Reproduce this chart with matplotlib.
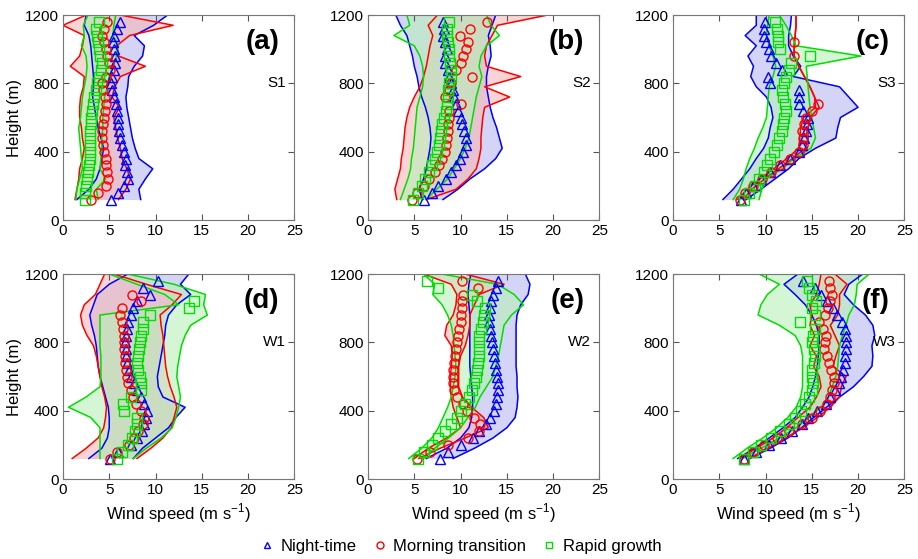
import numpy as np
import matplotlib
matplotlib.use('Agg')
import matplotlib.pyplot as plt
from matplotlib.lines import Line2D

plt.rcParams['font.family'] = ['Liberation Sans', 'DejaVu Sans']
plt.rcParams['mathtext.fontset'] = 'custom'
plt.rcParams['mathtext.rm'] = 'Liberation Sans'

# Heights (m): markers every 40 m, envelopes every 60 m
h_mean = np.arange(120, 1161, 40)
h_env = np.arange(120, 1201, 60)

# ---- (a) S1 ----
a_night = [5.2, 5.9, 6.6, 7.0, 6.9, 6.7, 6.8, 6.6, 6.4, 6.2, 6.1, 6.0, 5.9, 5.8, 5.7, 5.5, 5.3, 5.2, 5.3, 5.5, 5.6, 5.6, 5.5, 5.4, 5.5, 5.8, 6.2]
a_night_lo = [1.5, 2.8, 3.6, 4.0, 4.2, 4.4, 4.1, 3.8, 3.6, 3.4, 3.2, 3.3, 3.3, 3.2, 3.1, 3.0, 2.8, 2.3, 2.5]
a_night_hi = [8.4, 8.2, 8.9, 9.7, 8.2, 7.8, 7.5, 7.3, 7.1, 6.9, 6.8, 7.0, 7.1, 7.7, 8.6, 8.8, 7.7, 9.8, 11.3]
a_morn = [3.0, 3.8, 4.6, 4.9, 4.8, 4.7, 4.6, 4.4, 4.3, 4.2, 4.2, 4.3, 4.4, 4.5, 4.6, 4.5, 4.3, 4.2, 4.6, 5.1, 5.0, 4.8, 4.6, 4.4, 4.2, 4.4, 4.8]
a_morn_lo = [1.3, 1.5, 1.7, 1.8, 2.1, 2.3, 2.1, 2.0, 1.8, 1.8, 1.9, 2.2, 2.3, 0.8, 1.8, 2.1, 2.3, 0.0, 2.5]
a_morn_hi = [6.0, 6.8, 7.3, 6.9, 6.4, 6.2, 5.9, 5.7, 5.5, 6.1, 5.3, 5.6, 6.2, 8.9, 6.0, 5.8, 7.2, 11.9, 6.2]
a_rapid = [2.4, 2.4, 2.5, 2.6, 2.7, 2.8, 2.9, 2.9, 2.9, 2.9, 2.9, 3.0, 3.0, 3.1, 3.2, 3.4, 3.6, 3.7, 3.9, 4.1, 4.2, 4.0, 3.9, 3.8, 3.7, 3.6, 3.9]
a_rapid_lo = [1.4, 1.5, 1.8, 2.1, 2.0, 1.9, 1.8, 1.7, 1.9, 2.0, 2.1, 2.3, 2.5, 2.6, 2.5, 2.0, 2.3, 2.2, 2.7]
a_rapid_hi = [3.8, 3.6, 4.6, 4.0, 4.1, 4.2, 4.2, 4.3, 4.3, 4.4, 4.5, 4.8, 5.0, 5.4, 5.8, 6.0, 5.4, 5.5, 5.7]

# ---- (b) S2 ----
b_night = [6.0, 6.9, 7.6, 8.4, 9.0, 9.5, 9.9, 10.3, 10.6, 10.6, 10.4, 10.2, 10.0, 9.7, 9.5, 9.3, 9.2, 9.0, 8.8, 8.6, 8.3, 8.3, 8.5, 8.3, 8.1, 8.2, 8.1]
b_night_lo = [5.9, 5.5, 6.0, 6.3, 6.5, 6.7, 6.8, 6.7, 6.5, 6.2, 5.8, 5.5, 5.3, 5.0, 4.8, 4.5, 4.2, 3.5, 3.0]
b_night_hi = [8.1, 9.7, 11.0, 12.6, 13.8, 14.5, 14.2, 13.9, 13.5, 13.2, 13.0, 12.8, 12.8, 13.0, 13.3, 13.2, 13.0, 13.4, 13.8]
b_morn = [4.7, 5.3, 6.0, 6.6, 7.2, 7.7, 8.0, 8.3, 8.4, 8.5, 8.6, 8.6, 8.7, 8.8, 10.1, 8.3, 8.7, 9.0, 11.2, 9.5, 10.0, 10.3, 10.6, 10.8, 9.9, 11.0, 12.9]
b_morn_lo = [3.1, 2.9, 3.2, 3.5, 3.6, 3.8, 3.9, 4.0, 4.2, 4.5, 5.0, 5.6, 6.0, 6.3, 6.5, 6.7, 7.0, 6.5, 7.5]
b_morn_hi = [6.3, 9.5, 10.8, 11.7, 12.0, 12.2, 12.2, 12.3, 12.4, 12.6, 15.3, 12.6, 16.5, 12.8, 12.6, 12.8, 13.4, 14.0, 19.4]
b_rapid = [4.9, 5.4, 5.8, 6.2, 6.6, 6.9, 7.2, 7.5, 7.7, 7.8, 7.9, 8.0, 8.2, 8.4, 8.5, 8.6, 8.6, 8.8, 9.0, 9.0, 8.9, 8.8, 8.7, 8.6, 8.5, 8.5, 8.7]
b_rapid_lo = [3.5, 3.9, 4.3, 4.6, 4.7, 4.9, 5.0, 5.1, 5.2, 5.3, 5.6, 5.9, 6.0, 5.9, 5.6, 5.0, 2.8, 4.5, 4.2]
b_rapid_hi = [6.3, 7.4, 8.6, 9.3, 10.0, 10.5, 10.9, 11.1, 11.3, 11.5, 11.7, 12.0, 12.3, 12.0, 12.2, 12.8, 14.2, 13.3, 12.8]

# ---- (c) S3 ----
nan = np.nan
c_night = [7.4, 7.9, 8.6, 9.5, 10.5, 11.6, 12.6, 13.6, 13.9, 14.2, 14.4, 14.5, 14.6, 14.0, 13.6, 13.6, 13.6, 10.5, 10.3, 11.8, 11.1, 10.6, 10.4, 10.1, 9.8, 9.8, 9.9]
c_night_lo = [5.4, 6.5, 7.4, 8.3, 9.0, 9.8, 10.3, 10.5, 10.8, 10.6, 10.1, 9.0, 8.4, 8.7, 8.1, 9.0, 7.8, 9.0, 9.0]
c_night_hi = [7.9, 9.5, 11.0, 12.5, 13.6, 15.4, 17.6, 17.8, 18.1, 20.0, 19.0, 18.0, 13.0, 13.8, 13.0, 12.5, 12.5, 12.7, 12.8]
c_morn = [7.2, 7.8, 8.6, 9.6, 10.6, 11.6, 12.6, 13.6, 14.0, 14.0, 13.9, 14.2, 14.4, 15.0, 15.7, nan, nan, nan, nan, nan, nan, 13.1, nan, 13.1, nan, nan, nan]
c_morn_lo = [7.0, 8.0, 9.4, 10.9, 12.3, 13.6, 13.7, 13.8, 14.1, 15.4, 15.3, 14.8, 14.2, 13.6, 13.1, 13.1, 13.2, 13.3, 13.3]
c_morn_hi = [7.6, 8.5, 9.9, 11.4, 12.9, 14.3, 14.6, 14.6, 14.8, 15.8, 15.3, 14.8, 14.2, 13.6, 13.1, 13.1, 13.2, 13.3, 13.3]
c_rapid = [7.7, 8.2, 8.9, 9.3, 9.8, 10.2, 10.5, 10.9, 11.2, 11.5, 11.8, 11.9, 12.0, 12.2, 12.1, 11.9, 11.8, 12.0, 12.2, 12.5, 12.8, 14.8, 11.6, 11.4, 11.3, 11.2, 11.0]
c_rapid_lo = [6.5, 7.2, 7.6, 7.9, 8.3, 8.8, 9.2, 9.7, 10.1, 10.2, 10.3, 10.4, 10.8, 11.1, 10.8, 10.4, 10.1, 10.2, 10.4]
c_rapid_hi = [9.3, 9.6, 10.0, 11.8, 13.1, 14.9, 15.4, 15.2, 15.0, 14.8, 14.7, 14.6, 14.5, 14.4, 20.3, 13.3, 12.8, 12.2, 11.5]

# ---- (d) W1 ----
d_night = [5.1, 6.0, 7.4, 8.0, 8.5, 8.8, 9.0, 9.1, 8.8, 8.4, 8.0, 7.7, 7.4, 7.1, 6.9, 6.8, 6.8, 6.7, 6.8, 6.9, 7.0, 7.3, 7.6, 8.0, 9.4, 8.6, 10.3]
d_night_lo = [2.8, 4.2, 4.8, 5.0, 5.0, 4.9, 4.6, 4.3, 4.0, 3.8, 3.7, 3.6, 3.4, 3.1, 2.9, 3.3, 3.7, 5.0, 7.0]
d_night_hi = [7.6, 8.6, 10.0, 11.4, 12.2, 13.2, 10.8, 10.3, 10.2, 10.4, 10.6, 10.8, 11.0, 11.1, 11.4, 12.3, 13.8, 12.7, 13.6]
d_morn = [5.1, 5.8, 7.1, 7.7, 8.1, 8.6, 8.8, 8.4, 7.9, 7.6, 7.3, 7.0, 6.9, 6.8, 6.7, 6.7, 6.6, 6.6, 6.6, 6.5, 6.4, 6.2, 6.4, 8.4, 7.5, nan, nan]
d_morn_lo = [1.0, 2.5, 3.8, 4.4, 4.6, 4.7, 4.5, 4.2, 4.0, 3.8, 3.6, 3.3, 2.6, 2.1, 1.9, 2.3, 3.5, 4.0, 4.5]
d_morn_hi = [8.0, 9.5, 10.8, 11.7, 12.0, 12.3, 12.0, 11.6, 11.3, 11.1, 11.0, 10.9, 10.8, 10.6, 10.5, 11.8, 12.8, 9.0, 5.5]
d_rapid = [5.8, 6.4, 7.0, 7.5, 7.8, 8.0, 8.0, 6.6, 6.5, 7.3, 8.4, 8.4, 8.3, 8.1, 8.0, 8.1, 8.2, 8.3, 8.4, 8.6, 8.7, 9.4, 13.6, 14.2, nan, nan, nan]
d_rapid_lo = [4.0, 4.0, 4.0, 4.0, 3.0, 0.6, 2.5, 4.0, 4.1, 4.1, 4.1, 4.0, 4.0, 4.0, 4.0, 12.5, 11.0, 8.0, 5.0]
d_rapid_hi = [7.6, 9.0, 10.6, 11.8, 12.2, 12.5, 12.7, 12.5, 12.3, 12.4, 12.6, 12.8, 13.2, 13.8, 15.6, 15.2, 15.4, 12.0, 7.0]

# ---- (e) W2 ----
e_night = [7.8, 8.6, 10.0, 11.3, 12.0, 12.7, 13.2, 13.6, 13.8, 13.9, 14.0, 14.0, 13.9, 13.8, 13.7, 13.6, 13.5, 13.4, 13.3, 13.2, 13.1, 13.1, 13.2, 13.3, 13.5, 13.8, 14.0]
e_night_lo = [6.3, 8.5, 10.0, 10.9, 11.2, 11.3, 11.3, 11.2, 11.1, 11.0, 11.0, 11.0, 11.0, 11.0, 11.0, 10.9, 10.8, 10.9, 11.1]
e_night_hi = [9.2, 11.5, 13.5, 15.0, 15.9, 16.1, 16.2, 16.1, 16.1, 16.0, 16.0, 16.0, 16.0, 16.0, 16.1, 16.5, 17.3, 17.5, 17.0]
e_morn = [5.3, 6.7, 8.6, 10.8, 12.0, 12.1, 11.5, 10.7, 10.3, 9.6, 9.3, 9.2, 9.2, 9.2, 9.3, 9.4, 9.5, 9.6, 9.7, 9.8, 10.0, 10.1, 10.2, 10.2, 10.3, 11.9, 10.2]
e_morn_lo = [5.0, 6.5, 8.5, 10.0, 9.6, 9.2, 9.0, 8.9, 8.9, 9.0, 9.1, 9.0, 8.3, 8.5, 9.2, 9.5, 9.6, 9.0, 6.0]
e_morn_hi = [5.5, 7.8, 10.5, 13.0, 12.5, 11.2, 10.2, 9.8, 9.8, 9.8, 10.0, 10.5, 10.8, 11.0, 11.0, 11.5, 12.0, 14.7, 10.5]
e_rapid = [5.4, 6.1, 6.9, 7.6, 8.3, 9.0, 9.6, 10.0, 10.5, 10.9, 11.2, 11.5, 11.7, 11.8, 11.9, 12.0, 12.0, 12.0, 12.0, 12.2, 12.4, 12.5, 12.6, 11.8, 11.2, 7.6, 6.4]
e_rapid_lo = [4.4, 5.8, 6.9, 7.6, 8.1, 8.6, 9.0, 9.2, 9.4, 9.5, 9.4, 9.3, 9.2, 9.0, 8.6, 8.0, 7.0, 7.2, 6.0]
e_rapid_hi = [6.0, 7.2, 8.7, 10.0, 10.8, 11.6, 12.1, 12.8, 13.5, 13.8, 14.1, 14.3, 14.5, 14.7, 15.5, 16.8, 15.8, 14.0, 8.0]

# ---- (f) W3 ----
f_night = [7.7, 9.0, 10.4, 11.7, 12.9, 13.9, 14.6, 15.6, 16.5, 17.0, 17.5, 17.9, 18.2, 18.4, 18.6, 18.6, 18.7, 18.7, 18.7, 18.6, 18.3, 17.7, 17.3, 16.6, 16.0, 15.4, 14.1]
f_night_lo = [7.0, 8.8, 10.4, 11.9, 13.2, 14.0, 14.7, 15.1, 15.4, 15.6, 15.7, 15.8, 15.8, 15.5, 15.0, 14.3, 13.2, 12.0, 13.5]
f_night_hi = [8.3, 10.5, 12.4, 13.9, 15.2, 16.6, 18.0, 19.5, 20.6, 21.5, 21.6, 21.5, 21.8, 21.6, 20.8, 19.5, 18.5, 19.0, 20.5]
f_morn = [7.7, 8.6, 9.8, 11.2, 12.5, 13.9, 15.0, 15.9, 16.6, 17.0, 17.2, 17.4, 17.4, 17.1, 16.9, 16.6, 16.3, 16.4, 16.5, 16.2, 15.8, 16.4, 16.7, 17.0, 17.2, 17.0, 16.9]
f_morn_lo = [7.2, 9.0, 10.8, 12.3, 13.5, 14.8, 15.5, 16.0, 15.8, 15.2, 15.5, 14.8, 15.3, 14.8, 15.0, 14.8, 15.5, 15.8, 16.0]
f_morn_hi = [8.2, 10.3, 12.2, 14.0, 15.6, 17.0, 18.0, 18.2, 18.7, 17.3, 17.6, 18.0, 17.5, 17.0, 17.8, 18.0, 18.0, 18.8, 17.5]
f_rapid = [7.7, 8.6, 9.5, 10.6, 11.6, 12.5, 13.2, 13.8, 14.3, 14.7, 15.0, 15.1, 15.0, 15.0, 15.2, 15.3, 15.2, 15.0, 15.1, 15.3, 13.7, 15.3, 15.0, 15.5, 15.0, 14.7, 14.5]
f_rapid_lo = [6.5, 8.0, 9.7, 11.2, 12.4, 13.3, 13.8, 14.0, 14.0, 14.0, 14.0, 13.8, 13.2, 11.5, 9.2, 9.5, 10.2, 11.5, 9.3]
f_rapid_hi = [7.5, 9.5, 11.5, 13.3, 14.7, 16.0, 16.8, 17.2, 17.6, 17.8, 17.9, 18.0, 18.3, 18.7, 19.0, 19.6, 19.8, 19.9, 21.2]

panels = [
    ('(a)', 'S1', (a_night, a_night_lo, a_night_hi), (a_morn, a_morn_lo, a_morn_hi), (a_rapid, a_rapid_lo, a_rapid_hi)),
    ('(b)', 'S2', (b_night, b_night_lo, b_night_hi), (b_morn, b_morn_lo, b_morn_hi), (b_rapid, b_rapid_lo, b_rapid_hi)),
    ('(c)', 'S3', (c_night, c_night_lo, c_night_hi), (c_morn, c_morn_lo, c_morn_hi), (c_rapid, c_rapid_lo, c_rapid_hi)),
    ('(d)', 'W1', (d_night, d_night_lo, d_night_hi), (d_morn, d_morn_lo, d_morn_hi), (d_rapid, d_rapid_lo, d_rapid_hi)),
    ('(e)', 'W2', (e_night, e_night_lo, e_night_hi), (e_morn, e_morn_lo, e_morn_hi), (e_rapid, e_rapid_lo, e_rapid_hi)),
    ('(f)', 'W3', (f_night, f_night_lo, f_night_hi), (f_morn, f_morn_lo, f_morn_hi), (f_rapid, f_rapid_lo, f_rapid_hi)),
]

# style per regime: line colour, fill colour, marker
styles = [('#0000ff', '#b8b8f0', '^'), ('#ff0000', '#f5b8b8', 'o'), ('#00dd00', '#b8f0b8', 's')]
labels = ['Night-time', 'Morning transition', 'Rapid growth']

fig = plt.figure(figsize=(9.18, 5.59), dpi=100)
lefts = [0.0686, 0.4009, 0.7331]
bottoms = [0.6064, 0.1431]

for i, (tag, site, *series) in enumerate(panels):
    ax = fig.add_axes([lefts[i % 3], bottoms[i // 3], 0.2520, 0.3667])
    for (mean, lo, hi), (lc, fc, mk) in zip(series, styles):
        ax.fill_betweenx(h_env, lo, hi, color=fc, alpha=0.6, lw=0)
    for (mean, lo, hi), (lc, fc, mk) in zip(series, styles):
        ax.plot(lo, h_env, color=lc, lw=1.1)
        ax.plot(hi, h_env, color=lc, lw=1.1)
    for (mean, lo, hi), (lc, fc, mk) in zip(series, styles):
        ax.plot(mean, h_mean, ls='none', marker=mk, ms=6.5, mfc='none', mec=lc, mew=1.0)
    ax.set_xlim(0, 25)
    ax.set_ylim(0, 1200)
    ax.set_xticks([0, 5, 10, 15, 20, 25])
    ax.set_yticks([0, 400, 800, 1200])
    ax.tick_params(direction='in', top=True, right=True, labelsize=11, length=4, color='#555555', pad=3)
    for sp in ax.spines.values():
        sp.set_color('#777777')
    ax.text(0.935, 0.87, tag, transform=ax.transAxes, ha='right', va='center', fontsize=20, fontweight='bold')
    ax.text(0.965, 0.667, site, transform=ax.transAxes, ha='right', va='center', fontsize=11)
    if i % 3 == 0:
        ax.set_ylabel('Height (m)', fontsize=12, labelpad=2)
    if i >= 3:
        ax.set_xlabel('Wind speed (m s$^{-1}$)', fontsize=12, labelpad=3)

handles = [Line2D([], [], ls='none', marker=mk, ms=5, mfc='none', mec=lc) for lc, fc, mk in styles]
fig.legend(handles, labels, loc='center', bbox_to_anchor=(0.5, 0.023), ncol=3, frameon=False,
           fontsize=12, handletextpad=0.2, columnspacing=0.8, handlelength=1.2)

fig.savefig('out.png', dpi=100)
